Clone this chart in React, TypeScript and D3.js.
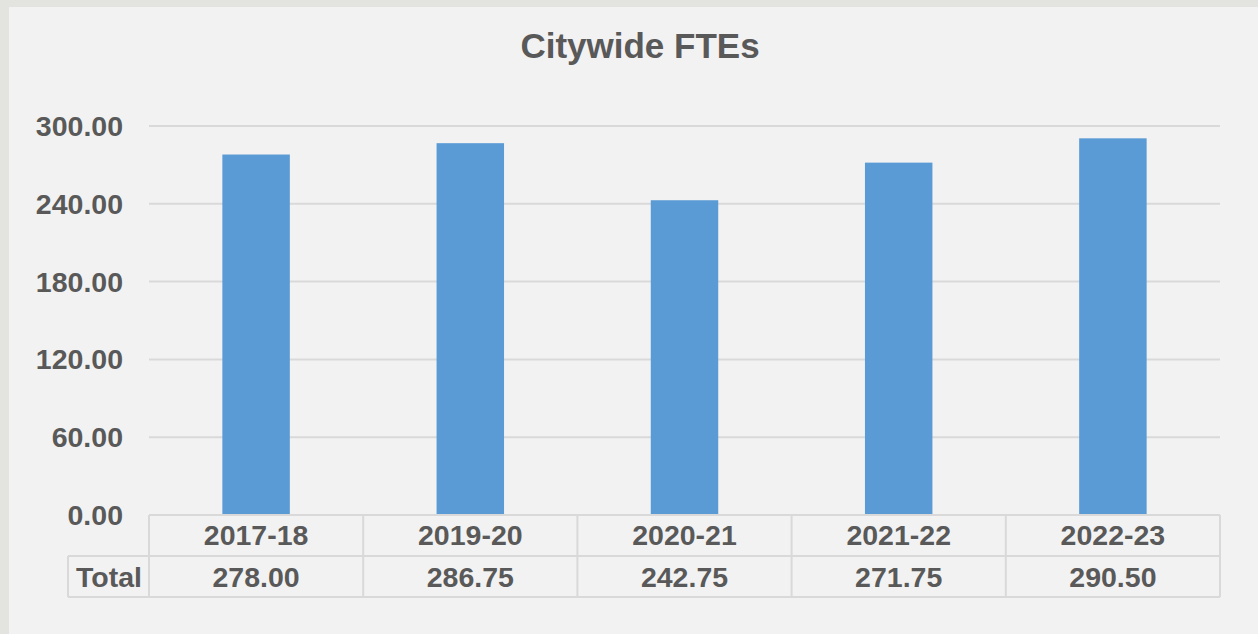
import React from 'react';
import * as d3 from 'd3';

const years = ['2017-18', '2019-20', '2020-21', '2021-22', '2022-23'];
const totals = [278.0, 286.75, 242.75, 271.75, 290.5];
const yTicks = [0, 60, 120, 180, 240, 300];

const W = 1258;
const H = 634;
const left = 149;
const right = 1220;
const top = 126;
const bottom = 515;
const rowH = 41;
const textColor = '#595959';
const gridColor = '#d9d9d9';
const font = '"Liberation Sans", Arial, sans-serif';
const fs = 28.5;

export default function App() {
  const x = d3.scaleBand<string>().domain(years).range([left, right]).paddingInner(0).paddingOuter(0);
  const y = d3.scaleLinear().domain([0, 300]).range([bottom, top]);
  const barW = x.bandwidth() * 0.315;
  const fmt = d3.format('.2f');

  return (
    <svg width={W} height={H} style={{ display: 'block', position: 'absolute', left: 0, top: 0 }}>
      <rect x={0} y={0} width={W} height={H} fill="#e3e3df" />
      <rect x={9} y={7} width={W - 9} height={H - 7} fill="#f2f2f2" />

      <text x={640} y={58} textAnchor="middle" fontFamily={font} fontWeight="bold" fontSize={35} fill={textColor}>
        Citywide FTEs
      </text>

      {yTicks.map(t => (
        <g key={t}>
          {t > 0 && <line x1={left} x2={right} y1={y(t)} y2={y(t)} stroke={gridColor} strokeWidth={2} />}
          <text x={123} y={y(t) + 10} textAnchor="end" fontFamily={font} fontWeight="bold" fontSize={fs} fill={textColor}>
            {fmt(t)}
          </text>
        </g>
      ))}

      {years.map((yr, i) => {
        const cx = (x(yr) as number) + x.bandwidth() / 2;
        return (
          <rect key={yr} x={cx - barW / 2} y={y(totals[i])} width={barW} height={bottom - y(totals[i])} fill="#5b9bd5" />
        );
      })}

      {/* data table */}
      <g stroke={gridColor} strokeWidth={2} fill="none">
        <line x1={left} x2={right} y1={bottom} y2={bottom} />
        <line x1={68} x2={right} y1={bottom + rowH} y2={bottom + rowH} />
        <line x1={68} x2={right} y1={bottom + 2 * rowH} y2={bottom + 2 * rowH} />
        <line x1={68} x2={68} y1={bottom + rowH} y2={bottom + 2 * rowH} />
        {years.map(yr => (
          <line key={yr} x1={x(yr)} x2={x(yr)} y1={bottom} y2={bottom + 2 * rowH} />
        ))}
        <line x1={right} x2={right} y1={bottom} y2={bottom + 2 * rowH} />
      </g>
      <text x={109} y={bottom + rowH + 31} textAnchor="middle" fontFamily={font} fontWeight="bold" fontSize={fs} fill={textColor}>
        Total
      </text>
      {years.map((yr, i) => {
        const cx = (x(yr) as number) + x.bandwidth() / 2;
        return (
          <g key={yr} fontFamily={font} fontWeight="bold" fontSize={fs} fill={textColor} textAnchor="middle">
            <text x={cx} y={bottom + 30}>{yr}</text>
            <text x={cx} y={bottom + rowH + 31}>{fmt(totals[i])}</text>
          </g>
        );
      })}
    </svg>
  );
}
